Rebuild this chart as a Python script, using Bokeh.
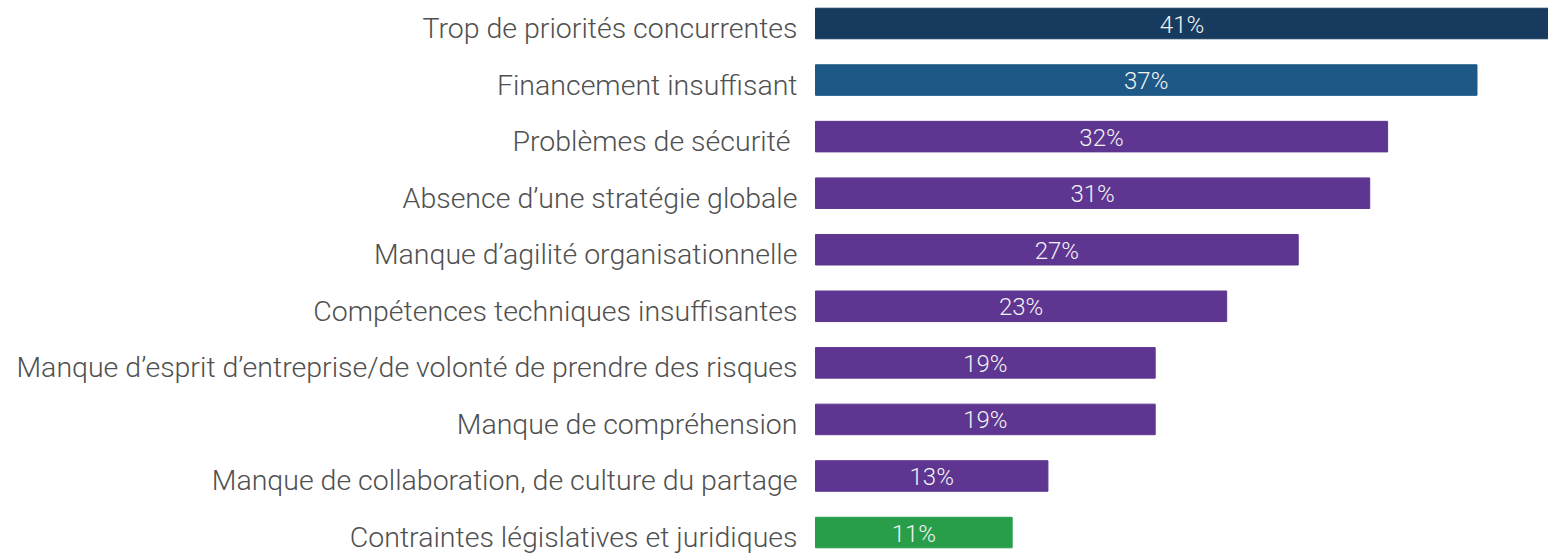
from bokeh.plotting import figure
from bokeh.models import ColumnDataSource, Range1d
from bokeh.core.properties import value
from bokeh.embed import file_html
from bokeh.resources import INLINE

categories = [
    "Trop de priorités concurrentes",
    "Financement insuffisant",
    "Problèmes de sécurité ",
    "Absence d\u2019une stratégie globale",
    "Manque d\u2019agilité organisationnelle",
    "Compétences techniques insuffisantes",
    "Manque d\u2019esprit d\u2019entreprise/de volonté de prendre des risques",
    "Manque de compréhension",
    "Manque de collaboration, de culture du partage",
    "Contraintes législatives et juridiques",
]
shares = [41, 37, 32, 31, 27, 23, 19, 19, 13, 11]
colors = ["#163b5e", "#1d5886", "#5e3591", "#5e3591", "#5e3591",
          "#5e3591", "#5e3591", "#5e3591", "#5e3591", "#289e4a"]

W, H = 1548, 556
bar_left_px = 815
pitch = 56.56
top_px = 23

xmax = max(shares)
x_start = -bar_left_px * xmax / (W - bar_left_px)
y_top = -top_px / pitch
y_bottom = y_top + H / pitch

src = ColumnDataSource(dict(
    y=list(range(len(categories))),
    v=shares,
    mid=[s / 2 for s in shares],
    zero=[0] * len(shares),
    cat=categories,
    lab=[f"{s}%" for s in shares],
    color=colors,
))

p = figure(width=W, height=H, output_backend="svg", toolbar_location=None,
           x_range=Range1d(x_start, xmax), y_range=Range1d(y_bottom, y_top),
           min_border=0, outline_line_color=None)
p.axis.visible = False
p.grid.visible = False
p.background_fill_color = "white"

p.hbar(y="y", left=0, right="v", height=0.54, color="color", source=src)

p.text(x="mid", y="y", text="lab", source=src, text_align="center",
       text_baseline="middle", text_color="#f2f2f2",
       text_font=value("Roboto Light"), text_font_size="24px", y_offset=1)

p.text(x="zero", y="y", text="cat", source=src, text_align="right",
       text_baseline="middle", text_color="#505050",
       text_font=value("Roboto Light"), text_font_size="28.5px",
       x_offset=-18, y_offset=5)

open("out.html", "w").write(file_html(p, INLINE))
